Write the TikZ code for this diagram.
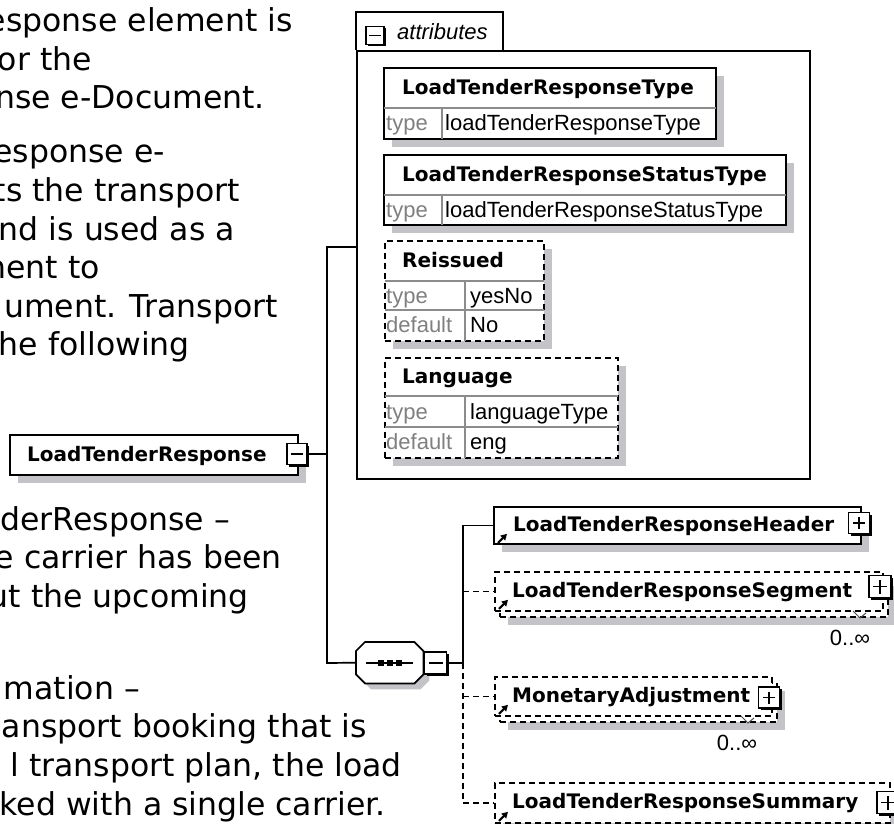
\documentclass[tikz,border=0pt]{standalone}
\usepackage{fontspec}
\setmainfont{DejaVu Sans}
\newfontfamily\arialf{Liberation Sans}
\usetikzlibrary{calc,shadows,arrows.meta}
\definecolor{shad}{RGB}{196,196,200}
\definecolor{divg}{RGB}{140,140,140}
\definecolor{typeg}{RGB}{128,128,128}
\begin{document}
\begin{tikzpicture}[
  x=1pt,y=-1pt,
  conn/.style={line width=1.7pt},
  dconn/.style={line width=1.7pt, dash pattern=on 6pt off 4pt},
  eshadow/.style={drop shadow={shadow xshift=8pt,shadow yshift=-8pt,fill=shad,opacity=1}},
  ebox/.style={draw=black, line width=1.8pt, fill=white, inner sep=0pt, anchor=north west},
  dbox/.style={ebox, dash pattern=on 6pt off 4pt},
  title/.style={font=\bfseries\fontsize{20}{24}\selectfont, anchor=base west, inner sep=0pt},
  typ/.style={font=\arialf\fontsize{22}{26}\selectfont, text=typeg, anchor=base west, inner sep=0pt},
  val/.style={font=\arialf\fontsize{22}{26}\selectfont, anchor=base west, inner sep=0pt},
  para/.style={font=\fontsize{31.5}{38}\selectfont, anchor=base east, inner sep=0pt},
  divider/.style={draw=divg, line width=1.2pt},
  pm/.style={draw=black, fill=white, line width=1.6pt, minimum width=20pt, minimum height=20pt, inner sep=0pt,
     drop shadow={shadow xshift=2pt, shadow yshift=-2pt, fill=black, opacity=1}},
  sign/.style={line width=1.6pt},
  refarrow/.style={-{Triangle[length=6pt,width=6.5pt]}, line width=2.2pt},
  mult/.style={font=\arialf\fontsize{22}{26}\selectfont, inner sep=0pt},
  tick/.style={draw=black!70, line width=1pt}
]
\useasboundingbox (0,0) rectangle (894,824);
\clip (0,0) rectangle (894,824);

% ---------------- paragraph text (cut at the left edge) ----------------
\node[para] (p1a) at (293,32) {esponse element is};
\node[para] (p1b) at (92,70.5) {or the};
\node[para] (p1c) at (265,109) {nse e-Document.};
\node[para] (p2a) at (165,163) {esponse e-};
\node[para] (p2b) at (240,201.5) {ts the transport};
\node[para] (p2c) at (235,240) {nd is used as a};
\node[para] (p2d) at (100,278.5) {nent to};
\node[para] (p2e) at (278,317) {ument. Transport};
\node[para] (p2f) at (190,355.5) {he following};
\node[para] (p3a) at (230,530) {derResponse –};
\node[para] (p3b) at (282,568.5) {e carrier has been};
\node[para] (p3c) at (249,607) {ut the upcoming};
\node[para] (p4a) at (140,699) {mation –};
\node[para] (p4b) at (367,737.5) {ansport booking that is};
\node[para] (p4c) at (402,776) {l transport plan, the load};
\node[para] (p4d) at (386,815) {ked with a single carrier.};

% ---------------- attributes container ----------------
\node[ebox, minimum width=453pt, minimum height=428pt] (attrbox) at (356,50) {};
\coordinate (tabL) at (356,12);
\coordinate (tabR) at (503,12);
\draw[conn] (attrbox.north west) -- (tabL) -- (tabR) -- (tabR |- attrbox.north);
\node[pm, minimum width=18pt, minimum height=18pt] (attrm) at (375,35.5) {};
\draw[sign] ($(attrm.center)+(-6,0)$) -- ($(attrm.center)+(6,0)$);
\node[font=\arialf\itshape\fontsize{22}{26}\selectfont, anchor=base west, inner sep=0pt] (attrl) at (397,40) {attributes};

% LoadTenderResponseType
\node[ebox, eshadow, minimum width=332pt, minimum height=71pt] (a1) at (383,67) {};
\draw[divider] ($(a1.north west)+(1,41)$) -- ($(a1.north east)+(-1,41)$);
\draw[divider] ($(a1.north west)+(59,41)$) -- ($(a1.south west)+(59,-1)$);
\node[title] (a1t) at (402,94.5) {LoadTenderResponseType};
\node[typ] (a1k) at (386,130.5) {type};
\node[val] (a1v) at (445,130.5) {loadTenderResponseType};

% LoadTenderResponseStatusType
\node[ebox, eshadow, minimum width=402pt, minimum height=70pt] (a2) at (383,154) {};
\draw[divider] ($(a2.north west)+(1,41)$) -- ($(a2.north east)+(-1,41)$);
\draw[divider] ($(a2.north west)+(59,41)$) -- ($(a2.south west)+(59,-1)$);
\node[title] (a2t) at (402,181.5) {LoadTenderResponseStatusType};
\node[typ] (a2k) at (386,217) {type};
\node[val] (a2v) at (445,217) {loadTenderResponseStatusType};

% Reissued
\node[dbox, eshadow, minimum width=159pt, minimum height=100pt] (a3) at (384,240) {};
\draw[divider] ($(a3.north west)+(1,41)$) -- ($(a3.north east)+(-1,41)$);
\draw[divider] ($(a3.north west)+(1,70)$) -- ($(a3.north east)+(-1,70)$);
\draw[divider] ($(a3.north west)+(81,41)$) -- ($(a3.south west)+(81,-1)$);
\node[title] (a3t) at (402,267.5) {Reissued};
\node[typ] (a3k1) at (386,303) {type};
\node[val] (a3v1) at (470,303) {yesNo};
\node[typ] (a3k2) at (386,332.5) {default};
\node[val] (a3v2) at (470,332.5) {No};

% Language
\node[dbox, eshadow, minimum width=233pt, minimum height=100pt] (a4) at (384,357) {};
\draw[divider] ($(a4.north west)+(1,39)$) -- ($(a4.north east)+(-1,39)$);
\draw[divider] ($(a4.north west)+(1,70)$) -- ($(a4.north east)+(-1,70)$);
\draw[divider] ($(a4.north west)+(81,39)$) -- ($(a4.south west)+(81,-1)$);
\node[title] (a4t) at (402,383.5) {Language};
\node[typ] (a4k1) at (386,419) {type};
\node[val] (a4v1) at (470,419) {languageType};
\node[typ] (a4k2) at (386,449.5) {default};
\node[val] (a4v2) at (470,449.5) {eng};

% ---------------- root element ----------------
\node[ebox, eshadow, minimum width=288pt, minimum height=40pt] (ltr) at (9,434) {};
\node[title] (ltrt) at (27,461) {LoadTenderResponse};
\node[pm, minimum width=20pt, minimum height=21pt] (ltrm) at (297,454) {};
\draw[sign] ($(ltrm.center)+(-6,0)$) -- ($(ltrm.center)+(6,0)$);

% ---------------- sequence compositor ----------------
\node[minimum width=67pt, minimum height=41pt, inner sep=0pt, anchor=north west] (seq) at (356,642) {};
\draw[conn, fill=white, drop shadow={shadow xshift=6pt, shadow yshift=-6pt, fill=shad, opacity=1}]
  ($(seq.north west)+(9,0)$) -- ($(seq.north east)+(-9,0)$) -- ($(seq.north east)+(0,9)$) --
  ($(seq.south east)+(0,-9)$) -- ($(seq.south east)+(-9,0)$) -- ($(seq.south west)+(9,0)$) --
  ($(seq.south west)+(0,-9)$) -- ($(seq.north west)+(0,9)$) -- cycle;
\draw[line width=1.6pt] ($(seq.west)+(10,0)$) -- ($(seq.east)+(-10,0)$);
\foreach \dx in {-9,0,9}{
  \fill ($(seq.center)+(\dx,0)$) +(-3.2,-3.2) rectangle +(3.2,3.2);
}
\node[pm, minimum width=22pt, minimum height=22pt] (seqm) at (435.5,663) {};
\draw[sign] ($(seqm.center)+(-7,0)$) -- ($(seqm.center)+(7,0)$);

% ---------------- child elements ----------------
% Header
\node[ebox, eshadow, minimum width=367pt, minimum height=37pt] (hdr) at (493,506) {};
\node[title] (hdrt) at (513,531.5) {LoadTenderResponseHeader};
\node[pm, minimum width=21pt, minimum height=21pt] (hdrp) at (859,523) {};
\draw[sign] ($(hdrp.center)+(-6,0)$) -- ($(hdrp.center)+(6,0)$);
\draw[sign] ($(hdrp.center)+(0,-6)$) -- ($(hdrp.center)+(0,6)$);
\draw[refarrow] ($(hdr.south west)+(5,-2)$) -- ++(9,-9);

% Segment (multiple)
\node[dbox, eshadow, minimum width=388pt, minimum height=39pt] (segb) at (499,577) {};
\node[dbox, minimum width=388pt, minimum height=39pt] (seg) at (494,571) {};
\node[title] (segt) at (512,597.5) {LoadTenderResponseSegment};
\node[pm, minimum width=22pt, minimum height=22pt] (segp) at (880,586.5) {};
\draw[sign] ($(segp.center)+(-7,0)$) -- ($(segp.center)+(7,0)$);
\draw[sign] ($(segp.center)+(0,-7)$) -- ($(segp.center)+(0,7)$);
\draw[refarrow] ($(seg.south west)+(5,-3)$) -- ++(9,-9);
\draw[tick] (853,611) -- (860,618) -- (866,613);
\node[mult] (segmul) at (850,638) {0..∞};

% MonetaryAdjustment (multiple)
\node[dbox, eshadow, minimum width=277pt, minimum height=39pt] (monb) at (499,682) {};
\node[dbox, minimum width=277pt, minimum height=39pt] (mon) at (494,676) {};
\node[title] (mont) at (512,702.5) {MonetaryAdjustment};
\node[pm, minimum width=21pt, minimum height=21pt] (monp) at (769,697.5) {};
\draw[sign] ($(monp.center)+(-6,0)$) -- ($(monp.center)+(6,0)$);
\draw[sign] ($(monp.center)+(0,-6)$) -- ($(monp.center)+(0,6)$);
\draw[refarrow] ($(mon.south west)+(5,-3)$) -- ++(9,-9);
\draw[tick] (741,716) -- (748,723) -- (754,718);
\node[mult] (monmul) at (737,743) {0..∞};

% Summary
\node[dbox, eshadow, minimum width=395pt, minimum height=40pt] (sum) at (494,782) {};
\node[title] (sumt) at (512,808.5) {LoadTenderResponseSummary};
\node[pm, minimum width=22pt, minimum height=22pt] (sump) at (888,802.5) {};
\draw[sign] ($(sump.center)+(-7,0)$) -- ($(sump.center)+(7,0)$);
\draw[sign] ($(sump.center)+(0,-7)$) -- ($(sump.center)+(0,7)$);
\draw[refarrow] ($(sum.south west)+(5,-3)$) -- ++(9,-9);

% ---------------- connectors ----------------
\coordinate (sp1) at (327,247);
\coordinate (sp2) at (327,663);
\draw[conn] (ltrm.east) -- (ltrm.east -| sp1);
\draw[conn] (attrbox.west |- sp1) -- (sp1) -- (sp2) -- (seq.west);
\draw[conn] (seq.east) -- (seqm.west);
\coordinate (cs) at (463,663);
\draw[conn] (seqm.east) -- (cs);
\draw[conn] (cs) -- (cs |- hdr.west) -- (hdr.west);
\draw[dconn] (cs) -- (cs |- sum.west) -- (sum.west);
\draw[dconn] (cs |- seg.west) -- (seg.west);
\draw[dconn] (cs |- mon.west) -- (mon.west);
\end{tikzpicture}
\end{document}
